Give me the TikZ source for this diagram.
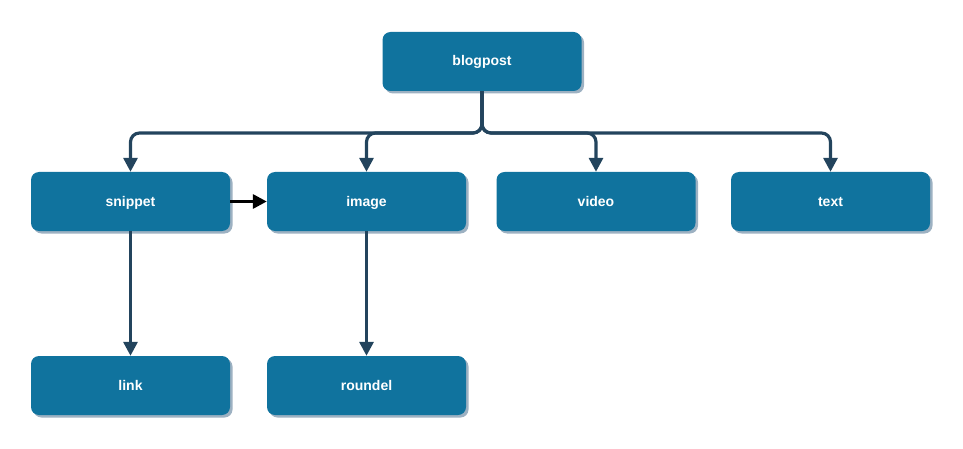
\documentclass[tikz,border=0pt]{standalone}
\usepackage{fontspec}
\setmainfont{Liberation Sans}
\usetikzlibrary{arrows.meta,shadows}
\definecolor{boxfill}{HTML}{10739E}
\definecolor{edgec}{HTML}{23445D}
\definecolor{shadowc}{HTML}{9DB1C2}
\tikzset{
  box/.style={rectangle, rounded corners=8pt, fill=boxfill, draw=none,
    minimum width=199pt, minimum height=59pt, inner sep=0pt,
    text height=11pt, text depth=2pt,
    text=white, font=\fontsize{14}{16}\selectfont\bfseries,
    drop shadow={shadow xshift=2.5pt, shadow yshift=-2.5pt, fill=shadowc, opacity=1}},
  edge/.style={draw=edgec, line width=3.2pt, rounded corners=9pt,
    -{Triangle[width=14pt,length=14pt]}},
  blackedge/.style={draw=black, line width=3.2pt,
    -{Triangle[width=14pt,length=14pt]}}
}
\begin{document}
\begin{tikzpicture}[x=1pt,y=-1pt]
\useasboundingbox (0,0) rectangle (963,449);
\node[box] (blogpost) at (482,61.5) {blogpost};
\node[box] (snippet) at (130.5,201.5) {snippet};
\node[box] (image) at (366.5,201.5) {image};
\node[box] (video) at (596,201.5) {video};
\node[box] (text) at (830.5,201.5) {text};
\node[box] (link) at (130.5,385.5) {link};
\node[box] (roundel) at (366.5,385.5) {roundel};
\coordinate (j) at (482,133);
\draw[edge] (blogpost.south) -- (j) -| (snippet.north);
\draw[edge] (blogpost.south) -- (j) -| (image.north);
\draw[edge] (blogpost.south) -- (j) -| (video.north);
\draw[edge] (blogpost.south) -- (j) -| (text.north);
\draw[edge] (snippet.south) -- (link.north);
\draw[edge] (image.south) -- (roundel.north);
\draw[blackedge] (snippet.east) -- (image.west);
\end{tikzpicture}
\end{document}
